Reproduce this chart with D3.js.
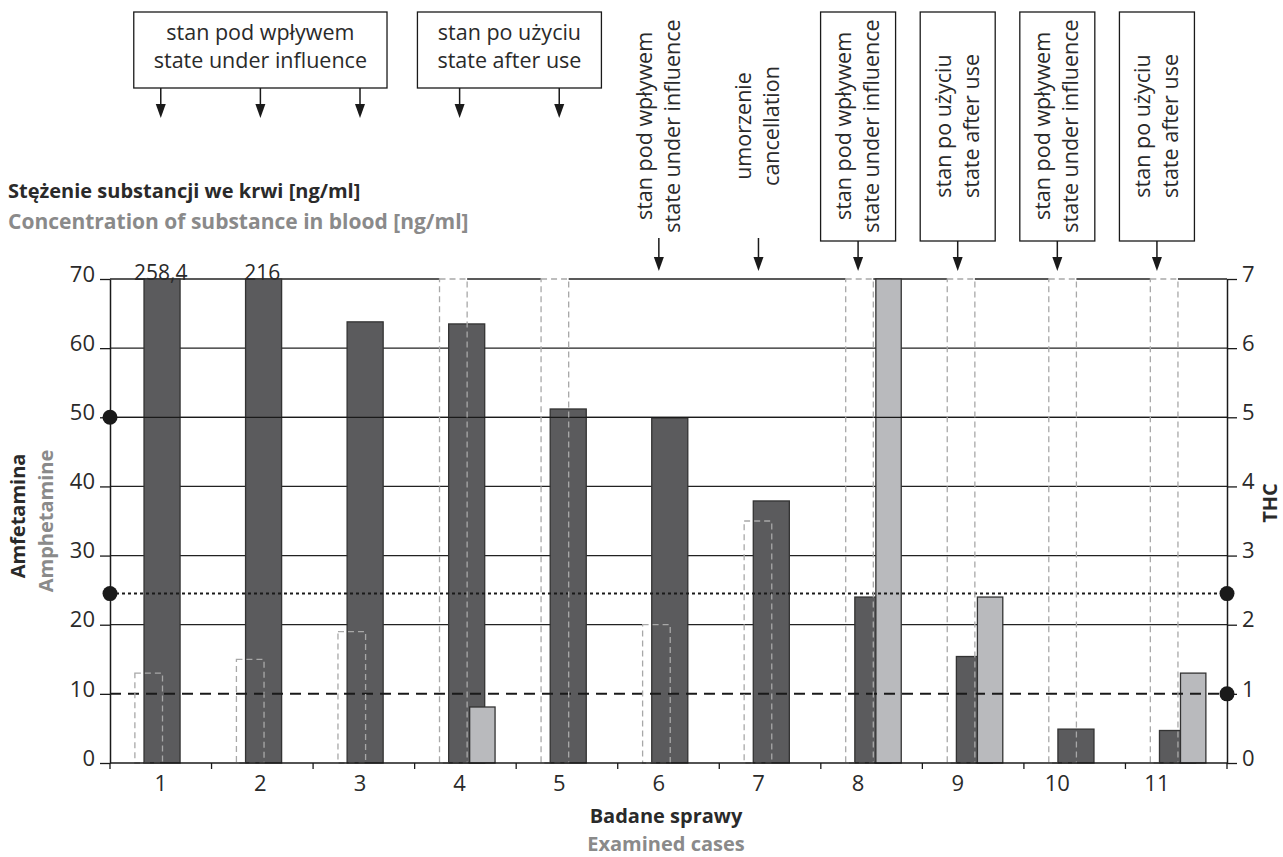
<!DOCTYPE html>
<html>
<head>
<meta charset="utf-8">
<script src="https://cdn.jsdelivr.net/npm/d3@7"></script>
<style>
  body { margin: 0; background: #fff; }
  svg { display: block; font-family: "Open Sans", Lato, sans-serif; }
</style>
</head>
<body>
<svg id="wykres" width="1283" height="857"></svg>
<script>
// Dane
const sprawy = ['1', '2', '3', '4', '5', '6', '7', '8', '9', '10', '11'];
const amfetamina = [258.4, 216, 63.8, 63.5, 51.2, 49.9, 37.9, 24.0, 15.4, 4.9, 4.7];   // ng/ml, lewa oś
const thc = [null, null, null, 0.81, null, null, null, 7.0, 2.40, null, 1.30];           // ng/ml, prawa oś
const kontury = [13, 15, 19, 70, 70, 20, 35, 70, 70, 70, 70];                            // słupki przerywane, lewa oś
const tickiLewe = [0, 10, 20, 30, 40, 50, 60, 70];
const tickiPrawe = [0, 1, 2, 3, 4, 5, 6, 7];
const progi = [50, 24.5, 10];   // linie progowe (jednostki lewej osi)

const adnotacjeGorne = [
    { tekst: ['stan pod wpływem', 'state under influence'], sprawy: ['1', '2', '3'] },
    { tekst: ['stan po użyciu', 'state after use'], sprawy: ['4', '5'] }
];
const adnotacjePionowe = [
    { sprawa: '6', tekst: ['stan pod wpływem', 'state under influence'], ramka: false },
    { sprawa: '7', tekst: ['umorzenie', 'cancellation'], ramka: false },
    { sprawa: '8', tekst: ['stan pod wpływem', 'state under influence'], ramka: true },
    { sprawa: '9', tekst: ['stan po użyciu', 'state after use'], ramka: true },
    { sprawa: '10', tekst: ['stan pod wpływem', 'state under influence'], ramka: true },
    { sprawa: '11', tekst: ['stan po użyciu', 'state after use'], ramka: true }
];

const svg = d3.select('#wykres');
const lewo = 110, prawo = 1227, gora = 279, dol = 763;

const x = d3.scaleBand().domain(sprawy).range([lewo, prawo]);
const bw = x.bandwidth();
// etykiety osi X w oryginale są lekko przesunięte względem przedziałów
const xEtykiety = d3.scalePoint().domain(sprawy).range([lewo + bw * 0.5, prawo - bw * 0.69]);
const yL = d3.scaleLinear().domain([0, 70]).range([dol, gora]);
const yR = d3.scaleLinear().domain([0, 7]).range([dol, gora]);

const kolorCiemny = '#5b5b5d', kolorJasny = '#b9babd', kolorTekstu = '#2a2a2a', kolorSzary = '#8a8a8a';
const rozmiarAdn = 21.5;

// Linie siatki (bez 10 - tam jest linia przerywana progu)
svg.append('g').selectAll('line')
    .data(tickiLewe.filter(t => t >= 20))
    .join('line')
    .attr('x1', lewo).attr('x2', prawo)
    .attr('y1', d => yL(d)).attr('y2', d => yL(d))
    .attr('stroke', '#222').attr('stroke-width', 1.3);

// Biała podkładka pod górną krawędzią słupków przerywanych
svg.append('g').selectAll('line')
    .data(kontury.map((v, i) => ({ s: sprawy[i], v })))
    .join('line')
    .attr('x1', d => x(d.s) + bw * 0.245).attr('x2', d => x(d.s) + bw * 0.517)
    .attr('y1', d => yL(Math.min(d.v, 70))).attr('y2', d => yL(Math.min(d.v, 70)))
    .attr('stroke', '#fff').attr('stroke-width', 3);

// Słupki amfetaminy
svg.append('g').selectAll('rect')
    .data(amfetamina.map((v, i) => ({ s: sprawy[i], v })))
    .join('rect')
    .attr('x', d => x(d.s) + bw * 0.335)
    .attr('width', bw * 0.355)
    .attr('y', d => yL(Math.min(d.v, 70)))
    .attr('height', d => dol - yL(Math.min(d.v, 70)))
    .attr('fill', kolorCiemny).attr('stroke', '#333').attr('stroke-width', 1.3);

// Słupki THC
svg.append('g').selectAll('rect')
    .data(thc.map((v, i) => ({ s: sprawy[i], v })).filter(d => d.v !== null))
    .join('rect')
    .attr('x', d => x(d.s) + bw * 0.542)
    .attr('width', bw * 0.25)
    .attr('y', d => yR(Math.min(d.v, 7)))
    .attr('height', d => dol - yR(Math.min(d.v, 7)))
    .attr('fill', kolorJasny).attr('stroke', '#333').attr('stroke-width', 1.3);

// Linie progowe
const stylProgu = [
    { dash: null, w: 1.3, kropki: ['L'] },
    { dash: '3,3', w: 2, kropki: ['L', 'R'] },
    { dash: '11,7', w: 2, kropki: ['R'] }
];
progi.forEach((p, i) => {
    svg.append('line')
        .attr('x1', lewo).attr('x2', prawo)
        .attr('y1', yL(p)).attr('y2', yL(p))
        .attr('stroke', '#1a1a1a').attr('stroke-width', stylProgu[i].w)
        .attr('stroke-dasharray', stylProgu[i].dash);
});

// Słupki przerywane (kontury)
svg.append('g').selectAll('rect')
    .data(kontury.map((v, i) => ({ s: sprawy[i], v })))
    .join('rect')
    .attr('x', d => x(d.s) + bw * 0.245)
    .attr('width', bw * 0.272)
    .attr('y', d => yL(Math.min(d.v, 70)))
    .attr('height', d => dol - yL(Math.min(d.v, 70)))
    .attr('fill', 'none').attr('stroke', '#a8a8a8').attr('stroke-width', 1.3)
    .attr('stroke-dasharray', '6,4');

// Etykiety wartości poza skalą
svg.append('g').selectAll('text')
    .data(amfetamina.map((v, i) => ({ s: sprawy[i], v })).filter(d => d.v > 70))
    .join('text')
    .attr('x', d => x(d.s) + bw * 0.5)
    .attr('y', gora + 1)
    .attr('text-anchor', 'middle')
    .attr('font-size', 21).attr('fill', kolorTekstu)
    .text(d => String(d.v).replace('.', ','));

// Osie
const osL = svg.append('g').attr('transform', `translate(${lewo},0)`)
    .call(d3.axisLeft(yL).tickValues(tickiLewe).tickSize(10).tickSizeOuter(0).tickPadding(5));
const osR = svg.append('g').attr('transform', `translate(${prawo},0)`)
    .call(d3.axisRight(yR).tickValues(tickiPrawe).tickFormat(d3.format('d'))
        .tickSize(10).tickSizeOuter(0).tickPadding(5));
[osL, osR].forEach(o => {
    o.select('.domain').attr('stroke', '#1a1a1a').attr('stroke-width', 1.5);
    o.selectAll('.tick line').attr('stroke', '#1a1a1a').attr('stroke-width', 1.3);
    o.selectAll('.tick text').attr('font-size', 22).attr('fill', kolorTekstu)
        .attr('font-family', '"Open Sans", sans-serif').attr('dy', '0.1em');
});

// Oś X: linia bazowa, kreski na granicach przedziałów, etykiety
svg.append('line').attr('x1', lewo).attr('x2', prawo).attr('y1', dol).attr('y2', dol)
    .attr('stroke', '#1a1a1a').attr('stroke-width', 1.5);
svg.append('g').selectAll('line')
    .data(sprawy.map(s => x(s)).concat([prawo]))
    .join('line')
    .attr('x1', d => d).attr('x2', d => d)
    .attr('y1', dol).attr('y2', dol + 6)
    .attr('stroke', '#1a1a1a').attr('stroke-width', 1.3);
svg.append('g').selectAll('text')
    .data(sprawy)
    .join('text')
    .attr('x', d => xEtykiety(d))
    .attr('y', dol + 28)
    .attr('text-anchor', 'middle')
    .attr('font-size', 22).attr('fill', kolorTekstu)
    .text(d => d);

// Kropki progów
const kropki = [];
progi.forEach((p, i) => stylProgu[i].kropki.forEach(k => kropki.push({ p, k })));
svg.append('g').selectAll('circle')
    .data(kropki)
    .join('circle')
    .attr('cx', d => d.k === 'L' ? lewo : prawo)
    .attr('cy', d => yL(d.p))
    .attr('r', 7.5)
    .attr('fill', '#1a1a1a');

// Tytuły osi
const tytul = svg.append('g').attr('font-weight', 'bold').attr('font-size', 20);
tytul.append('text').attr('x', 8).attr('y', 198).attr('fill', kolorTekstu)
    .text('Stężenie substancji we krwi [ng/ml]');
tytul.append('text').attr('x', 8).attr('y', 229).attr('fill', kolorSzary)
    .attr('font-size', 21)
    .text('Concentration of substance in blood [ng/ml]');

tytul.append('text').attr('transform', 'translate(25,516) rotate(-90)')
    .attr('text-anchor', 'middle').attr('fill', kolorTekstu).text('Amfetamina');
tytul.append('text').attr('transform', 'translate(53,521) rotate(-90)')
    .attr('text-anchor', 'middle').attr('fill', kolorSzary).text('Amphetamine');
tytul.append('text').attr('transform', 'translate(1277,503) rotate(-90)')
    .attr('text-anchor', 'middle').attr('fill', kolorTekstu).text('THC');

tytul.append('text').attr('x', 666).attr('y', 823)
    .attr('text-anchor', 'middle').attr('fill', kolorTekstu).text('Badane sprawy');
tytul.append('text').attr('x', 666).attr('y', 851)
    .attr('text-anchor', 'middle').attr('fill', kolorSzary).text('Examined cases');

// Strzałki
function strzalka(g, cx, y0, tip) {
    g.append('line').attr('x1', cx).attr('x2', cx).attr('y1', y0).attr('y2', tip - 8)
        .attr('stroke', '#1a1a1a').attr('stroke-width', 1.5);
    g.append('path').attr('d', `M${cx - 5},${tip - 14}L${cx + 5},${tip - 14}L${cx},${tip}Z`)
        .attr('fill', '#1a1a1a');
}

// Adnotacje górne (poziome ramki)
adnotacjeGorne.forEach(a => {
    const g = svg.append('g');
    const xs = a.sprawy.map(s => xEtykiety(s));
    const cx = (d3.min(xs) + d3.max(xs)) / 2;
    const teksty = a.tekst.map((t, i) => g.append('text')
        .attr('x', cx).attr('y', 40 + i * 28)
        .attr('text-anchor', 'middle').attr('font-size', rozmiarAdn).attr('fill', kolorTekstu)
        .text(t));
    const szer = d3.max(teksty, t => t.node().getComputedTextLength()) + 40;
    g.insert('rect', 'text')
        .attr('x', cx - szer / 2).attr('y', 12).attr('width', szer).attr('height', 76)
        .attr('fill', '#fff').attr('stroke', '#1a1a1a').attr('stroke-width', 1.3);
    xs.forEach(ax => strzalka(g, ax, 88, 118));
});

// Adnotacje pionowe
adnotacjePionowe.forEach(a => {
    const g = svg.append('g');
    const cx = xEtykiety(a.sprawa);
    if (a.ramka) {
        g.append('rect').attr('x', cx - 37.5).attr('y', 12).attr('width', 75).attr('height', 229)
            .attr('fill', '#fff').attr('stroke', '#1a1a1a').attr('stroke-width', 1.3);
    }
    const t = g.append('g').attr('transform', `translate(${cx},126) rotate(-90)`);
    a.tekst.forEach((s, i) => t.append('text')
        .attr('x', 0).attr('y', i === 0 ? -14 : 14)
        .attr('dy', '0.32em')
        .attr('text-anchor', 'middle').attr('font-size', rozmiarAdn).attr('fill', kolorTekstu)
        .text(s));
    strzalka(g, cx, a.ramka ? 241 : 238, 271);
});
</script>
</body>
</html>
